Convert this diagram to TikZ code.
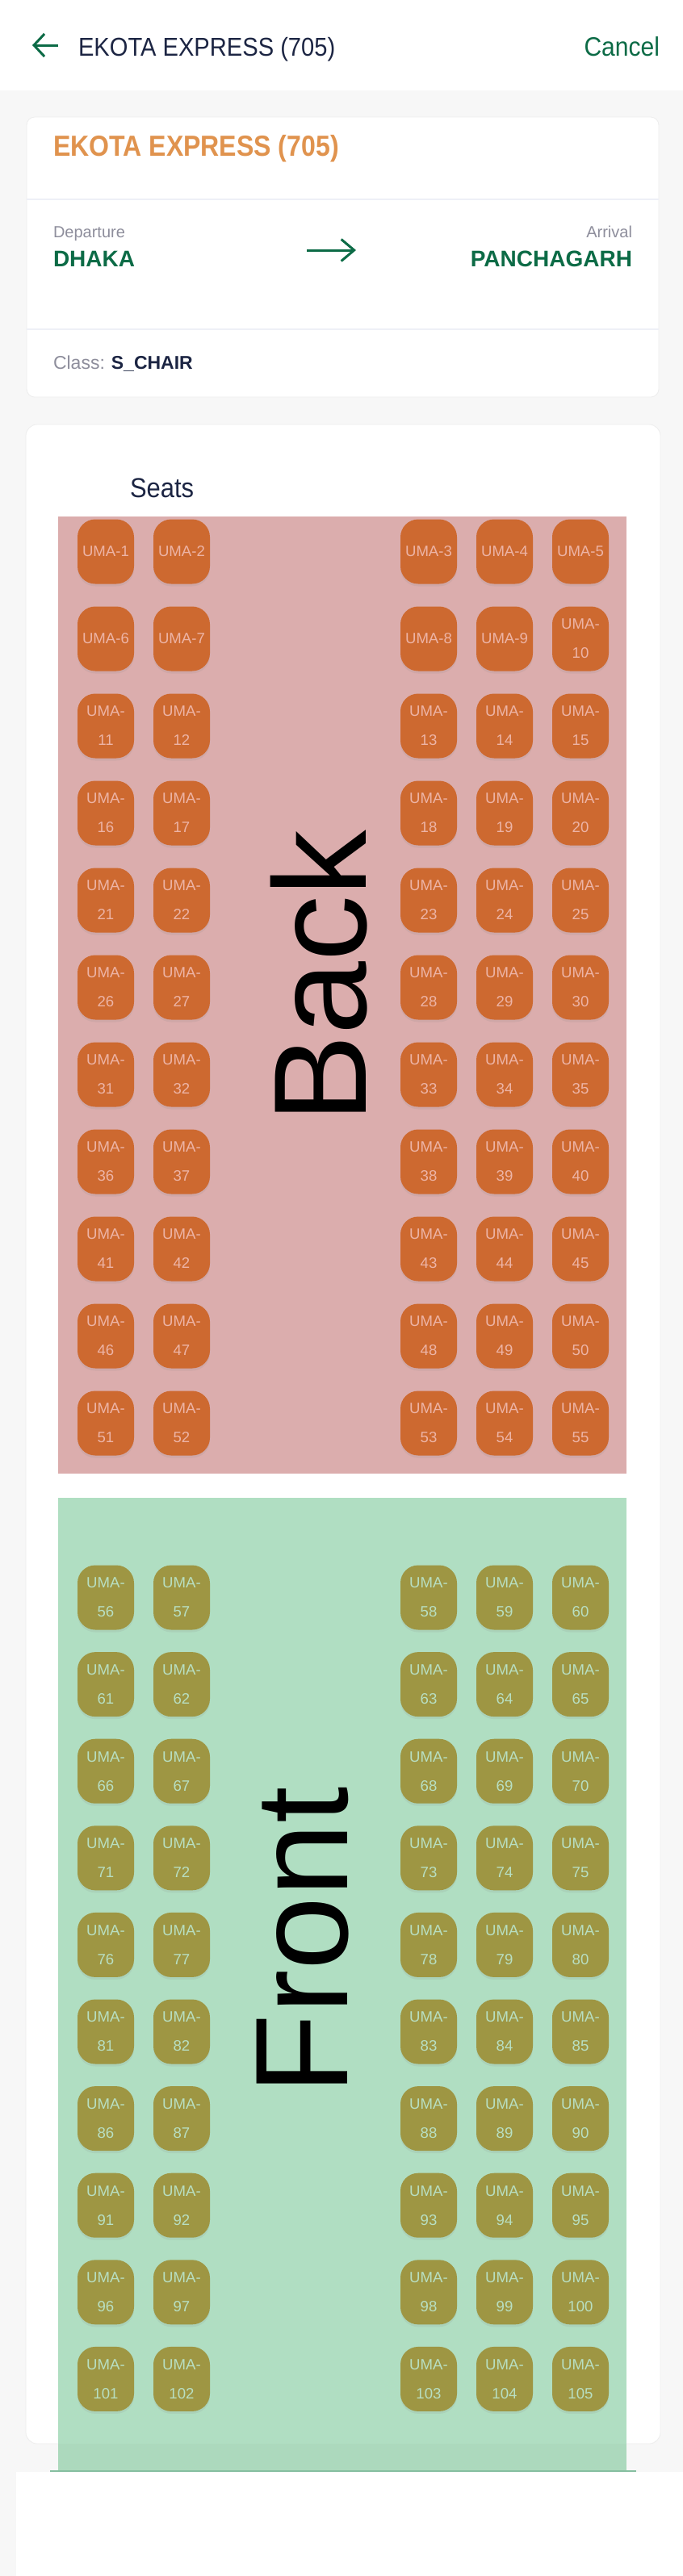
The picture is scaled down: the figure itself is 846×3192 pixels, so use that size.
\documentclass[tikz,border=0pt]{standalone}
\usepackage{fontspec}
\setmainfont{Liberation Sans}
\newfontfamily\narrowfont[FakeStretch=0.91]{Liberation Sans}
\newfontfamily\titlefont[FakeStretch=0.89]{Liberation Sans}
\usepackage{tikz}
\usetikzlibrary{arrows.meta,positioning,shadows}

\definecolor{pageGray}{HTML}{F7F7F7}
\definecolor{navyText}{HTML}{1C2543}
\definecolor{appGreen}{HTML}{0C6B46}
\definecolor{trainOrange}{HTML}{E0934E}
\definecolor{labelGray}{HTML}{8E8E9C}
\definecolor{dividerLine}{HTML}{EEF0F7}
\definecolor{cardLine}{HTML}{EDEDED}
\definecolor{backZone}{HTML}{DBADAD}
\definecolor{frontZone}{HTML}{B0DEC2}
\definecolor{frontZoneDark}{HTML}{ACD9BD}
\definecolor{zoneEdge}{HTML}{86BFA0}
\definecolor{seatOrange}{HTML}{CD6930}
\definecolor{seatOrangeText}{HTML}{EDB4A6}
\definecolor{seatOlive}{HTML}{9E9643}
\definecolor{seatOliveText}{HTML}{B8DFC2}

\begin{document}
\begin{tikzpicture}[
    x=0.5pt, y=-0.5pt,
    every node/.style={inner sep=0pt, outer sep=0pt},
    headText/.style={font=\narrowfont\fontsize{16}{19}\selectfont},
    smallGray/.style={text=labelGray, font=\fontsize{10}{12}\selectfont},
    cityText/.style={text=appGreen, font=\bfseries\fontsize{14}{17}\selectfont},
    seatBox/.style={rectangle, rounded corners=11pt, minimum width=35pt, minimum height=40pt,
        align=center, font=\fontsize{9.3}{18}\selectfont,
        drop shadow={opacity=0.12, shadow xshift=0pt, shadow yshift=-1.5pt}},
    seatBack/.style={seatBox, fill=seatOrange, text=seatOrangeText},
    seatFront/.style={seatBox, fill=seatOlive, text=seatOliveText},
    bigText/.style={rotate=90, text=black, font=\fontsize{81.7}{90}\selectfont},
    iconArrow/.style={draw=appGreen, line width=1.5pt}
    ]

    \useasboundingbox (0,0) rectangle (846,3192);

    % Фон
    \fill[pageGray] (0,0) rectangle (846,3192);
    \fill[white] (0,0) rectangle (846,112);
    \draw[cardLine, fill=white, rounded corners=5pt] (33,145) rectangle (816,492);
    \draw[dividerLine, line width=1pt] (33,247) -- (816,247);
    \draw[dividerLine, line width=1pt] (33,408) -- (816,408);
    \draw[cardLine, fill=white, rounded corners=7pt] (32,526) rectangle (818,3028);
    \fill[backZone] (72,640) rectangle (776,1826);
    \fill[frontZone] (72,1856) rectangle (776,3028);
    \fill[frontZoneDark] (72,3028) rectangle (776,3062);
    \draw[zoneEdge, line width=1pt] (62,3062) -- (788,3062);
    \fill[white] (20,3063) rectangle (846,3192);

    % Заголовок
    \coordinate (backTail) at (72,56);
    \coordinate (backTip) at (40,56);
    \draw[iconArrow, -{Straight Barb[length=6.5pt, width=14pt]}] (backTail) -- (backTip);
    \node[headText, text=navyText, anchor=base west] (headTitle) at (97,69) {EKOTA EXPRESS (705)};
    \node[headText, text=appGreen, anchor=base east, font=\narrowfont\fontsize{16.5}{19}\selectfont] (cancelBtn) at (817,69) {Cancel};

    % Картка поїзда
    \node[text=trainOrange, anchor=base west, font=\titlefont\bfseries\fontsize{18}{21}\selectfont] (trainName) at (66,193) {EKOTA EXPRESS (705)};
    \node[cityText, anchor=base west] (depCity) at (66,330) {DHAKA};
    \node[smallGray, anchor=base west] (depLabel) at (66,294) {Departure};
    \node[cityText, anchor=base east] (arrCity) at (783,330) {PANCHAGARH};
    \node[smallGray, anchor=base east] (arrLabel) at (783,294) {Arrival};
    \coordinate (routeTail) at (380,310);
    \coordinate (routeTip) at (441,310);
    \draw[iconArrow, -{Straight Barb[length=8pt, width=13.5pt]}] (routeTail) -- (routeTip);
    \node[text=labelGray, anchor=base west, font=\fontsize{11.5}{14}\selectfont] (classLabel) at (66,457) {Class:};
    \node[text=navyText, font=\bfseries\fontsize{11.5}{14}\selectfont] (className) [base right=4pt of classLabel] {S\_CHAIR};

    % Місця
    \node[text=navyText, anchor=base west, font=\narrowfont\fontsize{17}{20}\selectfont] (seatsTitle) at (161,616) {Seats};
    \foreach \r in {1,...,11} {
        \foreach \c/\x in {1/131,2/225,3/531,4/625,5/719} {
            \pgfmathtruncatemacro\n{5*(\r-1)+\c}
            \pgfmathsetmacro\y{683.5+108*(\r-1)}
            \ifnum\n<10 \def\seatText{UMA-\n}\else \def\seatText{UMA-\\\n}\fi
            \node[seatBack] (uma\n) at (\x,\y) {\seatText};
        }
    }
    \foreach \r in {1,...,10} {
        \foreach \c/\x in {1/131,2/225,3/531,4/625,5/719} {
            \pgfmathtruncatemacro\n{55+5*(\r-1)+\c}
            \pgfmathsetmacro\y{1979.5+107.6*(\r-1)}
            \node[seatFront] (uma\n) at (\x,\y) {UMA-\\\n};
        }
    }

    % Вагон
    \node[bigText] (backLabel) at (395,1210) {Back};
    \node[bigText] (frontLabel) at (375.5,2405) {Front};

\end{tikzpicture}
\end{document}
